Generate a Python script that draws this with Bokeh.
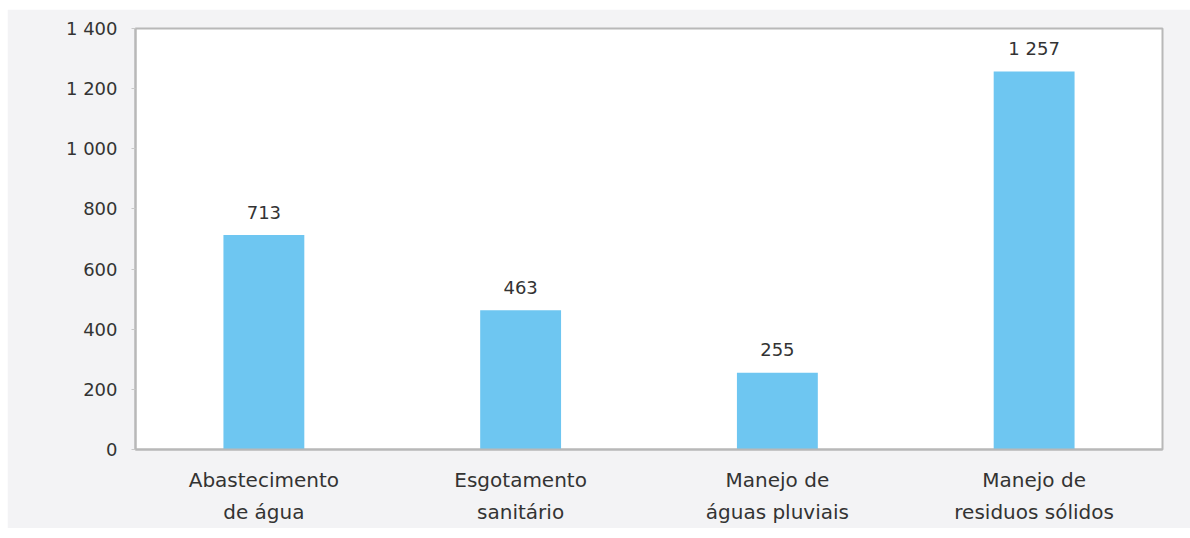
from bokeh.plotting import figure
from bokeh.models import ColumnDataSource, FixedTicker, Range1d
from bokeh.core.properties import value
from bokeh.embed import file_html
from bokeh.resources import INLINE

categories = ["Abastecimento\nde água", "Esgotamento\nsanitário", "Manejo de\náguas pluviais", "Manejo de\nresiduos sólidos"]
values = [713, 463, 255, 1257]
value_labels = ["713", "463", "255", "1 257"]
y_ticks = [0, 200, 400, 600, 800, 1000, 1200, 1400]
y_tick_labels = ["0", "200", "400", "600", "800", "1 000", "1 200", "1 400"]

FONT = "DejaVu Sans"
TEXT = "#333333"

src = ColumnDataSource(dict(cat=categories, val=values, lab=value_labels))

p = figure(x_range=categories, y_range=Range1d(0, 1400), width=1183, height=519,
           output_backend="svg", toolbar_location=None,
           min_border_left=128, min_border_right=28, min_border_top=19, min_border_bottom=79)
p.margin = (9, 0, 10, 7)
p.background_fill_color = "white"
p.border_fill_color = "#f3f3f5"
p.outline_line_color = "#b8b8b8"
p.outline_line_width = 2
p.grid.visible = False

p.vbar(x="cat", top="val", width=0.315, source=src, fill_color="#6ec6f1", line_color=None)
p.text(x="cat", y="val", text="lab", source=src, text_align="center", text_baseline="alphabetic",
       y_offset=-23, text_font=value(FONT), text_font_size="18px", text_color=TEXT)

p.yaxis.ticker = FixedTicker(ticks=y_ticks)
p.yaxis.major_label_overrides = {t: l for t, l in zip(y_ticks, y_tick_labels)}
p.yaxis.major_label_text_font = FONT
p.yaxis.major_label_text_font_size = "18px"
p.yaxis.major_label_text_color = TEXT
p.yaxis.major_tick_out = 4
p.yaxis.major_tick_in = 0
p.yaxis.minor_tick_line_color = None
p.yaxis.major_tick_line_color = "#c8c8c8"
p.yaxis.axis_line_color = "#b8b8b8"
p.yaxis.axis_line_width = 2
p.yaxis.major_label_standoff = 14

p.xaxis.major_label_text_font = FONT
p.xaxis.major_label_text_font_size = "20px"
p.xaxis.major_label_text_color = TEXT
p.xaxis.major_label_text_line_height = 1.35
p.xaxis.major_tick_line_color = None
p.xaxis.minor_tick_line_color = None
p.xaxis.axis_line_color = "#b8b8b8"
p.xaxis.axis_line_width = 2
p.xaxis.major_label_standoff = 12

open("out.html", "w").write(file_html(p, INLINE))
